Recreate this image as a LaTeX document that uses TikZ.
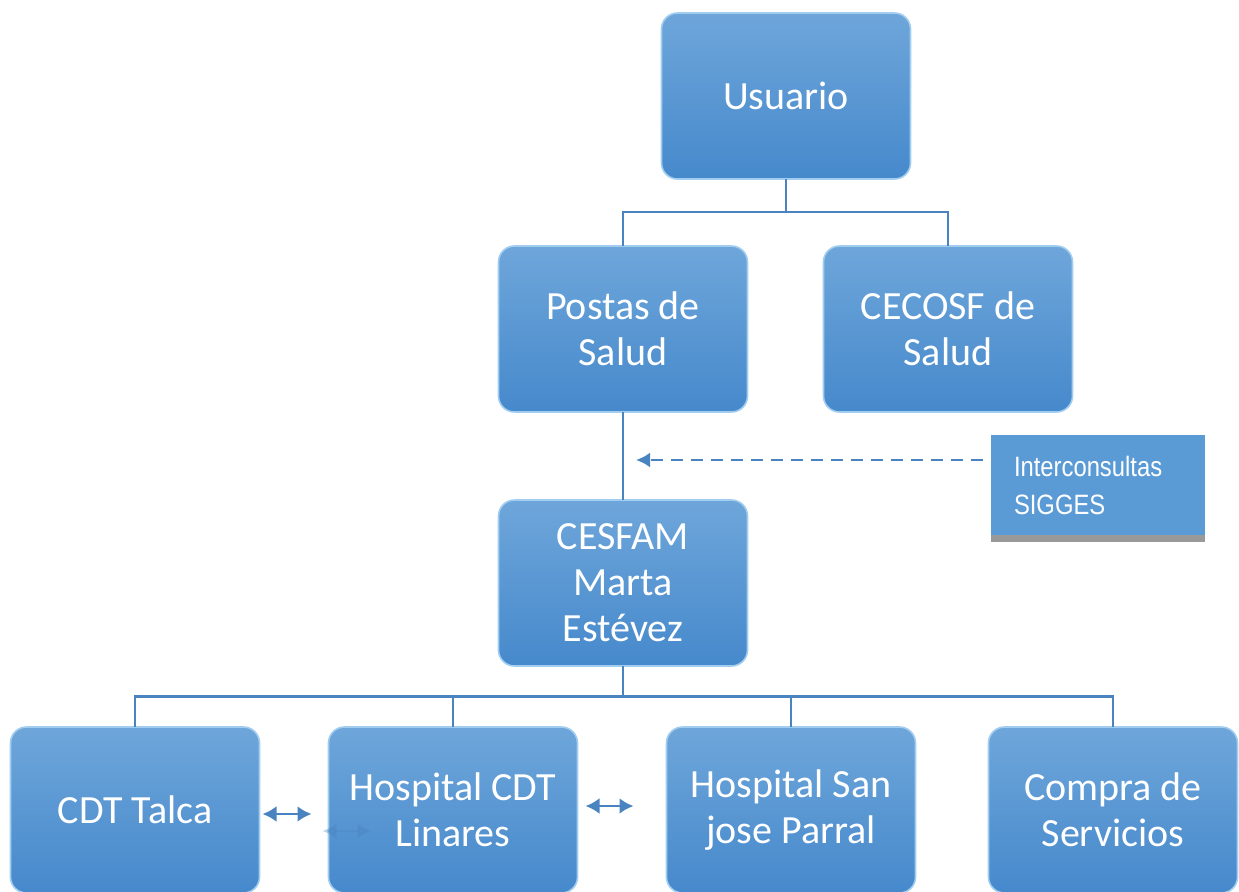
\documentclass[tikz,border=0pt]{standalone}
\usepackage{fontspec}
\setmainfont{Carlito}
\newfontfamily\narrowfont[FakeStretch=0.85]{Liberation Sans}
\usetikzlibrary{arrows.meta,positioning,shadows}

\definecolor{boxtop}{RGB}{110,166,218}
\definecolor{boxbot}{RGB}{70,137,204}
\definecolor{boxrim}{RGB}{160,205,240}
\definecolor{linkblue}{RGB}{74,132,192}
\definecolor{notefill}{RGB}{91,155,213}

\tikzset{
  unit/.style={rounded corners=8pt, align=center, inner sep=0pt, outer sep=0pt,
    minimum width=124.5pt, minimum height=83pt, top color=boxtop, bottom color=boxbot,
    draw=boxrim, line width=0.8pt, text=white, font=\fontsize{20}{23}\selectfont},
  link/.style={draw=linkblue, line width=1.4pt},
  swap/.style={linkblue, line width=1.4pt, {Latex[length=7pt,width=8pt]}-{Latex[length=7pt,width=8pt]}}
}

\begin{document}
\begin{tikzpicture}
  \useasboundingbox (0,0) rectangle (619.5pt,-445.5pt);
  \node[unit] (usr) at (393pt,-48pt) {Usuario};
  \node[unit, below=33.5pt of usr, xshift=-81.5pt] (postas) {Postas de\\Salud};
  \node[unit, right=38pt of postas] (cecosf) {CECOSF de\\Salud};
  \node[unit, below=44pt of postas] (cesfam) {CESFAM\\Marta\\Estévez};
  \node[unit, below=30.5pt of cesfam, xshift=-244pt] (talca) {CDT Talca};
  \node[unit, right=34.5pt of talca] (linares) {Hospital CDT\\Linares};
  \node[unit, right=44.5pt of linares] (parral) {Hospital San\\jose Parral};
  \node[unit, right=36.5pt of parral] (compra) {Compra de\\Servicios};
  \node[fill=notefill, minimum width=107pt, minimum height=50pt, text width=84pt, inner sep=0pt,
    align=left, text=white, font=\narrowfont\fontsize{14}{19}\selectfont,
    drop shadow={shadow xshift=0pt, shadow yshift=-3.5pt, fill=gray!80, opacity=1}]
    (sig) at (549pt,-242.5pt) {Interconsultas\\SIGGES};

  % tree
  \draw[link] (usr.south) -- ++(0,-16.5pt) -| (postas.north);
  \draw[link] (usr.south) -- ++(0,-16.5pt) -| (cecosf.north);
  \draw[link] (postas.south) -- (cesfam.north);
  \coordinate (mid) at ([yshift=-24pt]postas.south);
  \draw[link, dashed, dash pattern=on 6pt off 4pt, -{Latex[length=7pt,width=7.5pt]}]
    ([xshift=-4pt]sig.west |- mid) -- ([xshift=6.5pt]mid);
  \foreach \n in {talca,linares,parral,compra}
    \draw[link] (cesfam.south) -- ++(0,-15.25pt) -| (\n.north);

  % side arrows
  \draw[swap] ([xshift=1.5pt,yshift=-2pt]talca.east) -- ([xshift=-8.5pt,yshift=-2pt]linares.west);
  \draw[swap, opacity=0.35] ([xshift=-3pt,yshift=-10.5pt]linares.west) -- ([xshift=21.5pt,yshift=-10.5pt]linares.west);
  \draw[swap] ([xshift=4pt,yshift=2pt]linares.east) -- ([xshift=-16.5pt,yshift=2pt]parral.west);
\end{tikzpicture}
\end{document}
